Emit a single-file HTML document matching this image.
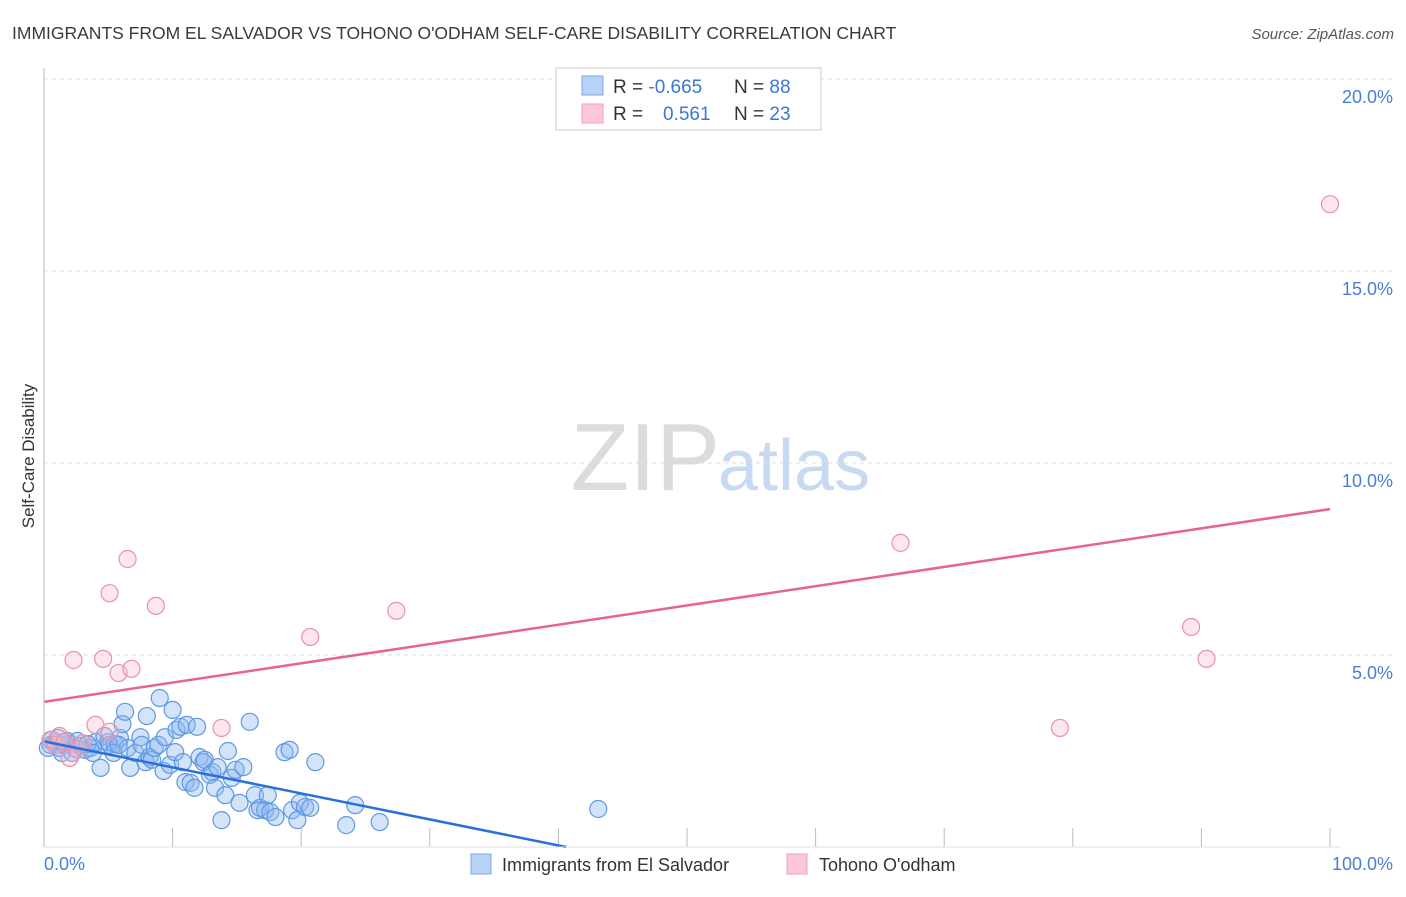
<!DOCTYPE html>
<html><head><meta charset="utf-8"><style>
body{margin:0;background:#fff;font-family:"Liberation Sans",sans-serif;}
svg text{font-family:"Liberation Sans",sans-serif;}
</style></head><body>
<svg id="chart" width="1406" height="892">
<text x="12" y="39" font-size="17.5" fill="#3a3a3a">IMMIGRANTS FROM EL SALVADOR VS TOHONO O'ODHAM SELF-CARE DISABILITY CORRELATION CHART</text>
<text x="1394" y="39" font-size="15" fill="#555" font-style="italic" text-anchor="end">Source: ZipAtlas.com</text>
<text x="720" y="490" font-size="96" fill="#dcdcdc" text-anchor="end" font-family="Liberation Serif">ZIP</text>
<text x="718" y="490" font-size="72" fill="#c8daf2">atlas</text>
<text transform="translate(34,456) rotate(-90)" font-size="17" fill="#333" text-anchor="middle">Self-Care Disability</text>
<g id="grid"></g><g id="ticks"></g><g id="pts"></g><g id="lines"></g>
<line x1="44" y1="68" x2="44" y2="847" stroke="#bbb"/>
<line x1="44" y1="847" x2="1340" y2="847" stroke="#ddd"/>
<text x="44" y="870" font-size="18" fill="#4a7fd8">0.0%</text>
<text x="1393" y="870" font-size="18" fill="#4a7fd8" text-anchor="end">100.0%</text>
<g>
<rect x="556" y="68" width="265" height="62" fill="#fff" stroke="#ccc"/>
<rect x="582" y="76" width="21" height="19" fill="#b8d2f6" stroke="#7aa8e8"/>
<rect x="582" y="104" width="21" height="19" fill="#fcc8d8" stroke="#f0a0b8"/>
<text x="613" y="93" font-size="19" fill="#333">R = <tspan fill="#3a76d6">-0.665</tspan></text>
<text x="734" y="93" font-size="19" fill="#333">N = <tspan fill="#3a76d6">88</tspan></text>
<text x="613" y="120" font-size="19" fill="#333">R = <tspan fill="#3a76d6" x="663">0.561</tspan></text>
<text x="734" y="120" font-size="19" fill="#333">N = <tspan fill="#3a76d6">23</tspan></text>
</g>
<g>
<rect x="471" y="854" width="20" height="20" fill="#b8d2f6" stroke="#7aa8e8"/>
<text x="502" y="871" font-size="18" fill="#333">Immigrants from El Salvador</text>
<rect x="787" y="854" width="20" height="20" fill="#fcc8d8" stroke="#f0a0b8"/>
<text x="819" y="871" font-size="18" fill="#333">Tohono O'odham</text>
</g>
</svg>
<script>
const yTicks=[5,10,15,20];
const yTickLabels=["5.0%","10.0%","15.0%","20.0%"];
const xTicks=[10,20,30,40,50,60,70,80,90,100];
const blueX=[0.5,0.9,1.2,1.6,2.0,2.4,2.8,3.2,3.6,4.0,4.4,4.7,5.1,5.5,5.9,6.1,6.3,6.5,6.7,7.1,7.5,7.6,7.9,8.0,8.2,8.4,8.6,8.9,9.0,9.3,9.4,9.8,10.0,10.2,10.3,10.6,10.8,11.0,11.1,11.4,11.7,11.9,12.1,12.4,12.5,12.9,13.1,13.3,13.5,13.8,14.1,14.3,14.6,14.9,15.2,15.5,16.0,16.4,16.6,16.8,17.2,17.4,17.6,18.0,18.7,19.1,19.3,19.7,19.9,20.3,20.7,21.1,23.5,24.2,26.1,43.1,0.3,0.6,1.1,1.4,1.8,2.2,2.6,3.4,3.8,5.0,5.4,5.8];
const blueY=[2.66,2.73,2.58,2.66,2.68,2.58,2.63,2.53,2.58,2.73,2.06,2.89,2.66,2.68,2.84,3.20,3.52,2.58,2.06,2.45,2.86,2.66,2.21,3.41,2.34,2.27,2.58,2.66,3.88,1.98,2.86,2.14,3.57,2.47,3.05,3.13,2.21,1.69,3.18,1.67,1.54,3.13,2.34,2.21,2.27,1.88,1.95,1.54,2.08,0.70,1.35,2.50,1.80,2.01,1.15,2.08,3.26,1.35,0.96,1.02,0.96,1.35,0.91,0.78,2.47,2.53,0.96,0.70,1.15,1.04,1.02,2.21,0.57,1.09,0.65,0.99,2.58,2.79,2.84,2.45,2.76,2.45,2.76,2.68,2.45,2.73,2.45,2.66];
const pinkX=[0.5,0.9,1.2,1.6,2.0,2.6,3.0,4.0,5.1,2.3,4.6,5.8,6.8,5.1,6.5,8.7,13.8,20.7,27.4,66.6,79.0,89.2,90.4,100];
const pinkY=[2.79,2.66,2.89,2.73,2.32,2.53,2.70,3.18,3.0,4.87,4.9,4.53,4.64,6.61,7.5,6.28,3.10,5.47,6.15,7.92,3.10,5.73,4.9,16.74];
const blueLine=[[0,2.75],[40.6,0]];
const pinkLine=[[0,3.78],[100,8.8]];
const X=v=>44+v*12.86, Y=v=>847-v*38.4;
const NS="http://www.w3.org/2000/svg";
function mk(tag,attrs,parent){const e=document.createElementNS(NS,tag);for(const k in attrs)e.setAttribute(k,attrs[k]);document.getElementById(parent).appendChild(e);return e;}
yTicks.forEach((t,i)=>{
 const l=mk('line',{x1:44,x2:1394,y1:Y(t),y2:Y(t),stroke:'#ddd','stroke-dasharray':'4,4'},'grid');
 
 
 const tx=mk('text',{x:1393,y:Y(t)+24,'font-size':18,fill:'#4a7fd8','text-anchor':'end'},'grid');
 tx.textContent=yTickLabels[i];
 
 
});
xTicks.forEach(t=>{
 const l=mk('line',{x1:X(t),x2:X(t),y1:828,y2:847,stroke:'#bbb'},'ticks');
 
 
});
blueX.forEach((v,i)=>{
 const c=mk('circle',{cx:X(v),cy:Y(blueY[i]),r:8.5,fill:'rgba(140,185,240,0.38)',stroke:'#5f98e4','stroke-width':1.2},'pts');
 
 
});
pinkX.forEach((v,i)=>{
 const c=mk('circle',{cx:X(v),cy:Y(pinkY[i]),r:8.5,fill:'rgba(250,185,205,0.35)',stroke:'#eb90ac','stroke-width':1.2},'pts');
 
 
});
const bl=mk('line',{x1:X(blueLine[0][0]),y1:Y(blueLine[0][1]),x2:X(blueLine[1][0]),y2:Y(blueLine[1][1]),stroke:'#2a6fdb','stroke-width':2.5},'lines');


const pl=mk('line',{x1:X(pinkLine[0][0]),y1:Y(pinkLine[0][1]),x2:X(pinkLine[1][0]),y2:Y(pinkLine[1][1]),stroke:'#e8638e','stroke-width':2.5},'lines');


</script>
</body></html>
